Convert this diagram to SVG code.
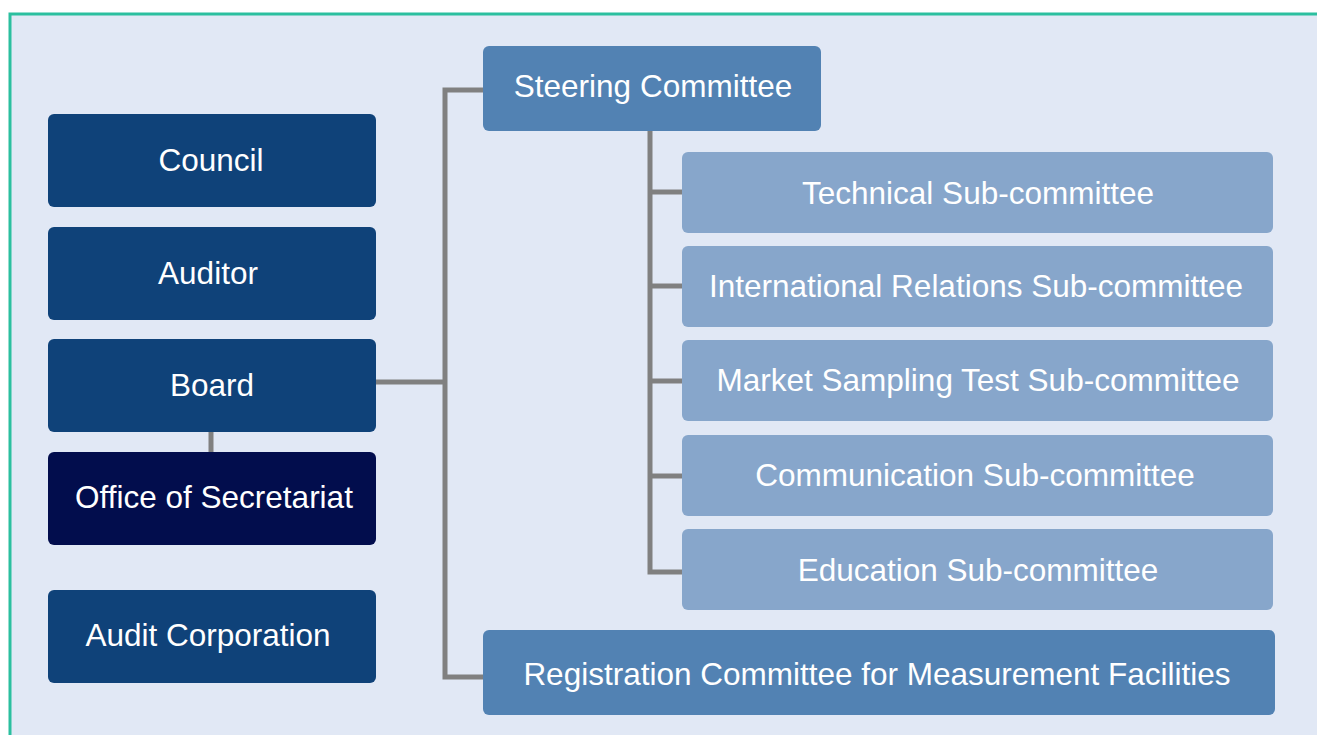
<svg xmlns="http://www.w3.org/2000/svg" width="1317" height="735" viewBox="0 0 1317 735">
<style>
.t{font-family:"Liberation Sans",Arial,sans-serif;font-size:31.5px;fill:#ffffff;text-anchor:middle;dominant-baseline:central}
.dark{fill:#0f4279}
.navy{fill:#020d4d}
.mid{fill:#5282b3}
.light{fill:#87a6cb}
.c{fill:none;stroke:#808080;stroke-width:5}
</style>
<rect x="10" y="14" width="1320" height="740" fill="#e1e8f5" stroke="#2bbf9f" stroke-width="3"/>
<g id="connectors">
<polyline class="c" points="483,90 445,90 445,677 483,677"/>
<line class="c" x1="376" y1="382" x2="445" y2="382"/>
<line class="c" x1="211" y1="431" x2="211" y2="452"/>
<polyline class="c" points="650,130 650,572 682,572"/>
<line class="c" x1="650" y1="192" x2="682" y2="192"/>
<line class="c" x1="650" y1="286" x2="682" y2="286"/>
<line class="c" x1="650" y1="381" x2="682" y2="381"/>
<line class="c" x1="650" y1="476" x2="682" y2="476"/>
</g>
<g id="council"><rect class="dark" x="48" y="114" width="328" height="93" rx="6"/><text class="t" x="211" y="160">Council</text></g>
<g id="auditor"><rect class="dark" x="48" y="227" width="328" height="93" rx="6"/><text class="t" x="208" y="273">Auditor</text></g>
<g id="board"><rect class="dark" x="48" y="339" width="328" height="93" rx="6"/><text class="t" x="212" y="385">Board</text></g>
<g id="office"><rect class="navy" x="48" y="452" width="328" height="93" rx="6"/><text class="t" x="214" y="497">Office of Secretariat</text></g>
<g id="audit-corp"><rect class="dark" x="48" y="590" width="328" height="93" rx="6"/><text class="t" x="208" y="635">Audit Corporation</text></g>
<g id="steering"><rect class="mid" x="483" y="46" width="338" height="85" rx="6"/><text class="t" x="653" y="86">Steering Committee</text></g>
<g id="technical"><rect class="light" x="682" y="152" width="591" height="81" rx="6"/><text class="t" x="978" y="193">Technical Sub-committee</text></g>
<g id="international"><rect class="light" x="682" y="246" width="591" height="81" rx="6"/><text class="t" x="976" y="286">International Relations Sub-committee</text></g>
<g id="market"><rect class="light" x="682" y="340" width="591" height="81" rx="6"/><text class="t" x="978" y="380">Market Sampling Test Sub-committee</text></g>
<g id="communication"><rect class="light" x="682" y="435" width="591" height="81" rx="6"/><text class="t" x="975" y="475">Communication Sub-committee</text></g>
<g id="education"><rect class="light" x="682" y="529" width="591" height="81" rx="6"/><text class="t" x="978" y="570">Education Sub-committee</text></g>
<g id="registration"><rect class="mid" x="483" y="630" width="792" height="85" rx="6"/><text class="t" x="877" y="674">Registration Committee for Measurement Facilities</text></g>
</svg>
